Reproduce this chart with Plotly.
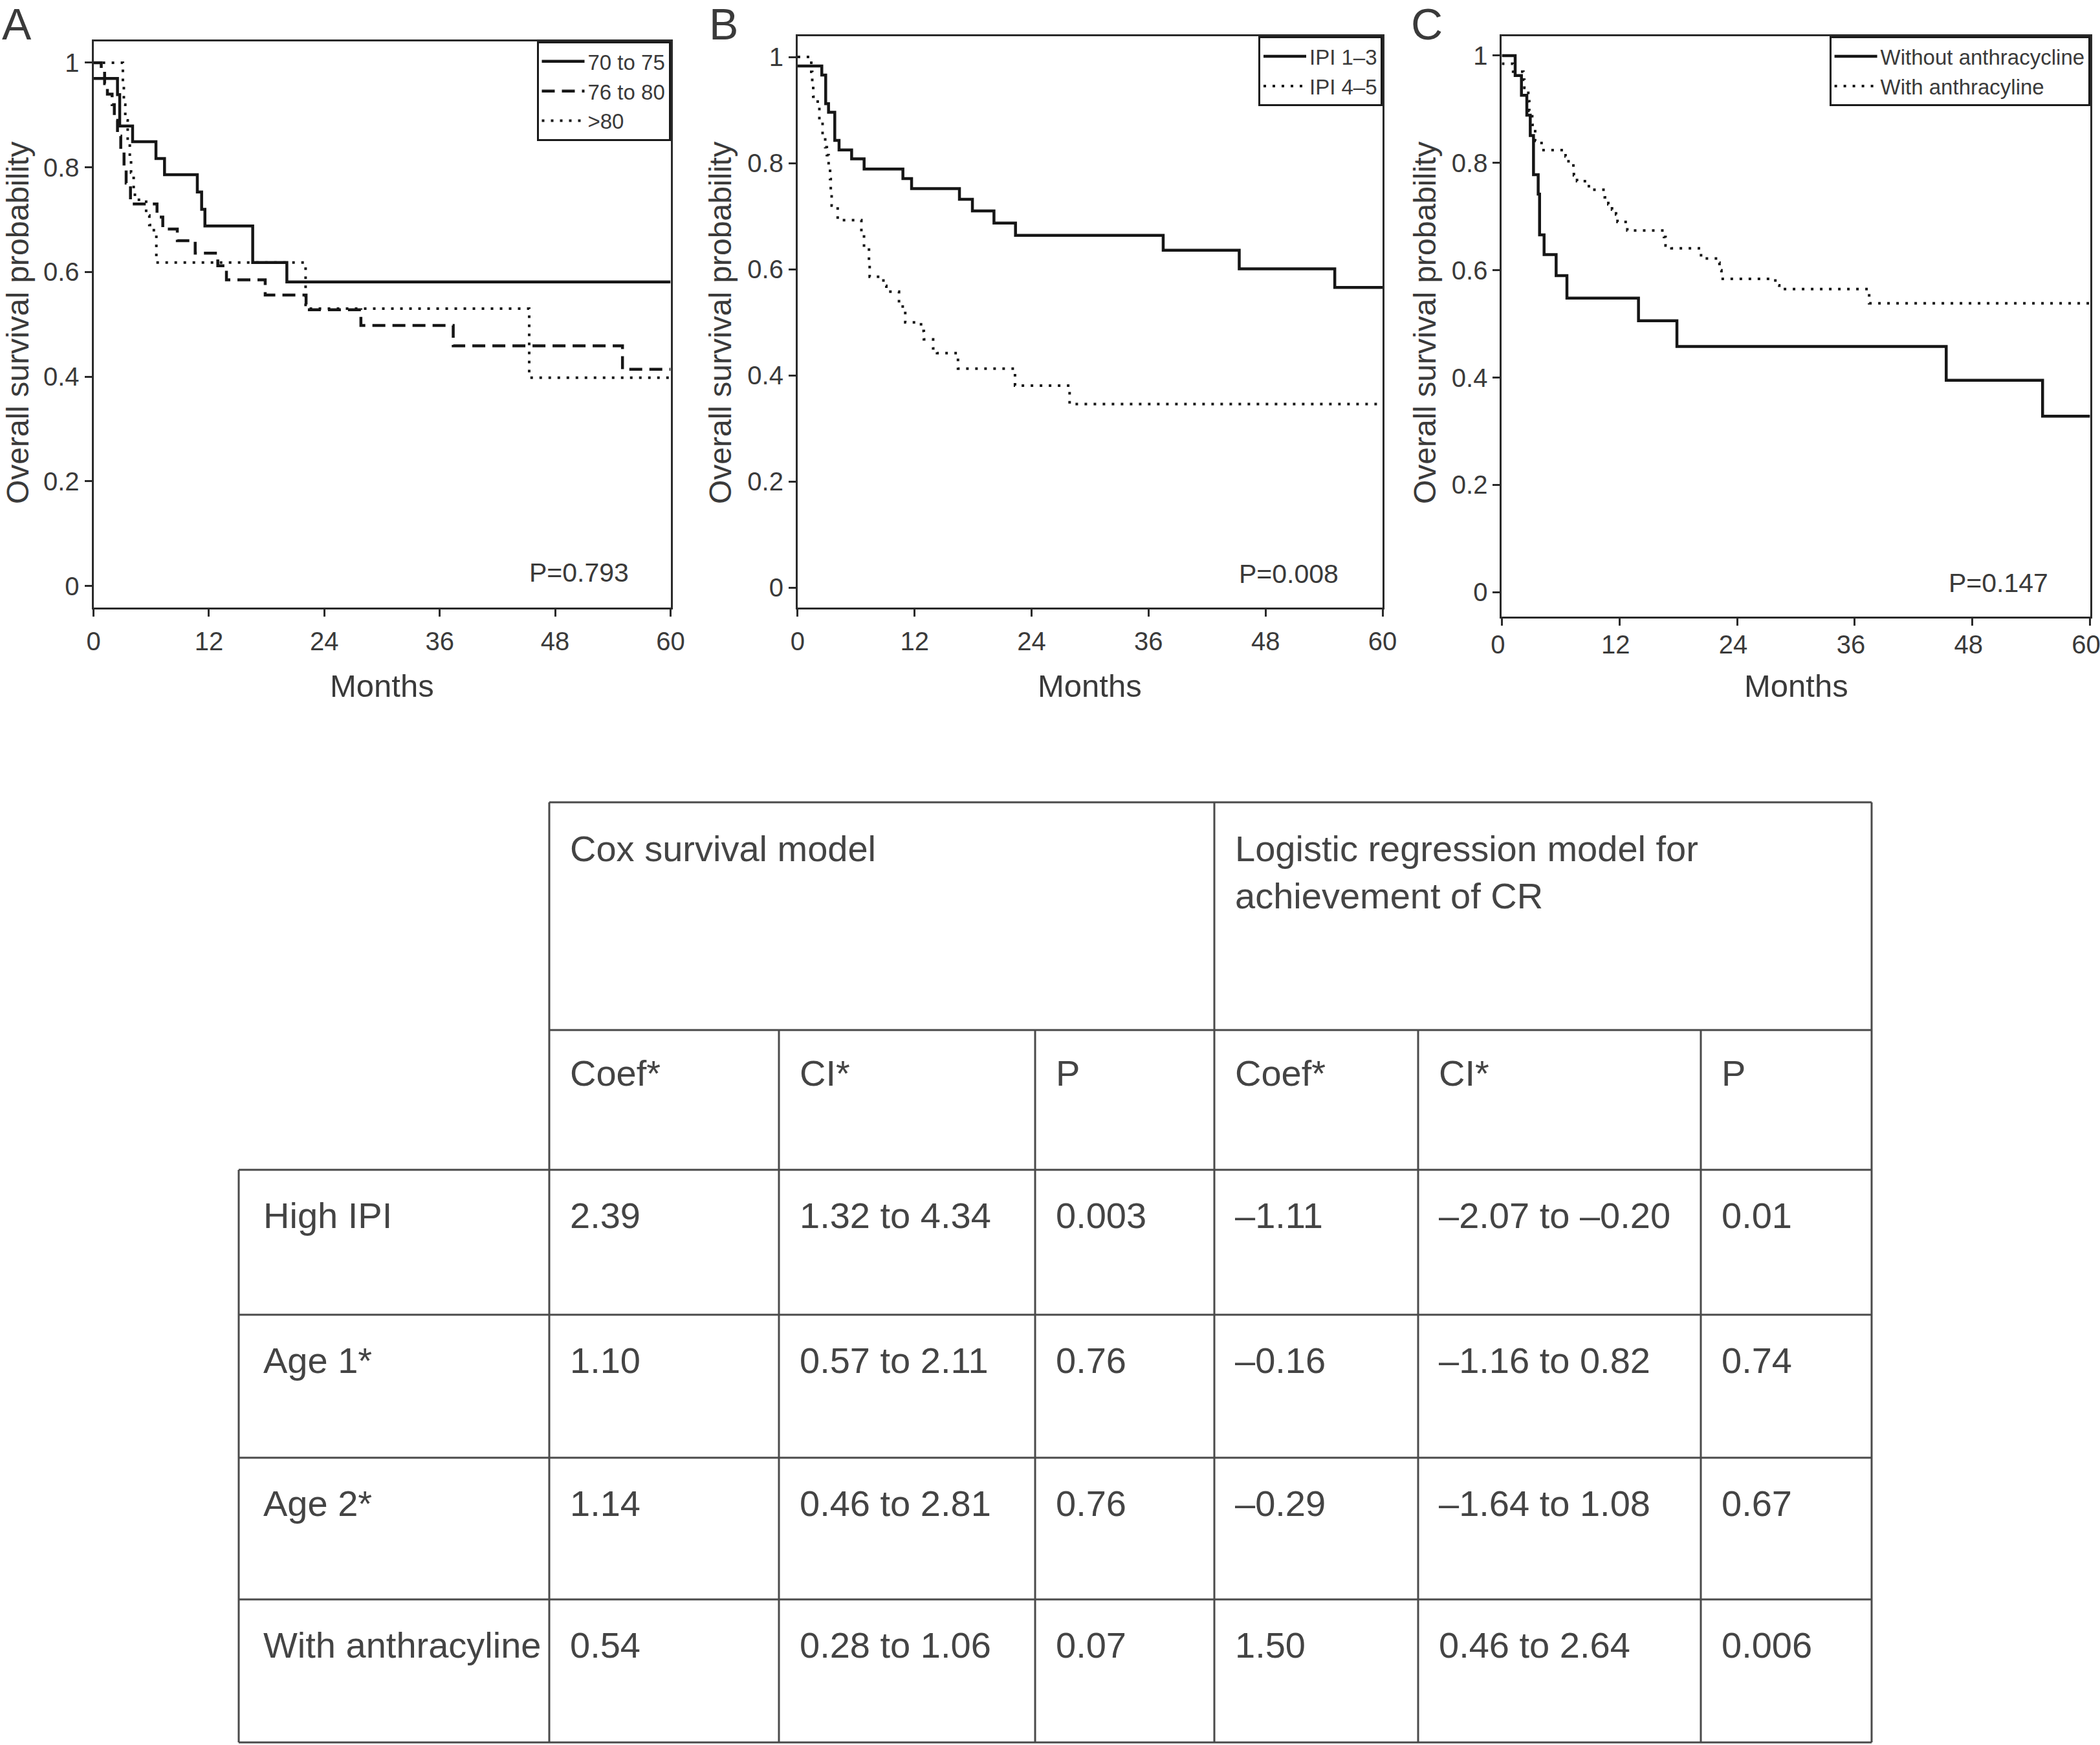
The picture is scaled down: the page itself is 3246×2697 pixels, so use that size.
import plotly.graph_objects as go

# ---- chart data ----
month_ticks = [0, 12, 24, 36, 48, 60]
surv_ticks = [0, 0.2, 0.4, 0.6, 0.8, 1]
surv_tick_text = ["0", "0.2", "0.4", "0.6", "0.8", "1"]

# panel A: age groups
a_time_70_75 = [0, 2.49, 2.72, 4.06, 6.49, 7.38, 10.79, 11.24, 11.58, 16.55, 20.1, 60]
a_surv_70_75 = [0.970, 0.939, 0.879, 0.849, 0.817, 0.786, 0.753, 0.720, 0.688, 0.618, 0.581, 0.581]
a_time_76_80 = [0, 0.8, 1.15, 1.44, 1.93, 2.16, 2.49, 2.83, 3.17, 3.39, 3.84, 6.6, 7.2, 8.71,
                10.57, 12.92, 13.82, 17.85, 22.1, 27.8, 37.4, 55.0, 60]
a_surv_76_80 = [1.0, 0.98, 0.96, 0.94, 0.92, 0.89, 0.86, 0.83, 0.80, 0.77, 0.73, 0.705, 0.682, 0.660,
                0.636, 0.612, 0.585, 0.556, 0.528, 0.498, 0.459, 0.414, 0.414]
a_time_80 = [0, 3.05, 3.15, 3.3, 3.55, 3.77, 3.9, 4.17, 4.3, 5.47, 5.8, 6.08, 6.53, 22.05, 45.3, 60]
a_surv_80 = [1.0, 0.96, 0.92, 0.89, 0.855, 0.82, 0.79, 0.755, 0.738, 0.708, 0.69, 0.68, 0.618, 0.53, 0.398, 0.398]

# panel B: IPI
b_time_ipi13 = [0, 2.48, 2.88, 3.17, 3.81, 4.25, 5.54, 6.82, 10.80, 11.69, 16.60, 17.93, 20.14,
                22.35, 37.5, 45.3, 55.1, 60]
b_surv_ipi13 = [0.983, 0.966, 0.912, 0.896, 0.843, 0.825, 0.808, 0.789, 0.771, 0.752, 0.732, 0.710,
                0.687, 0.664, 0.636, 0.601, 0.566, 0.566]
b_time_ipi45 = [0, 1.4, 1.5, 1.6, 2.06, 2.23, 2.56, 2.83, 3.0, 3.18, 3.33, 3.4, 3.49, 4.11, 6.54,
                6.81, 7.32, 7.39, 8.8, 9.1, 10.4, 11.04, 12.66, 12.95, 13.9, 14.3, 16.45, 22.3, 27.9, 60]
b_surv_ipi45 = [1.0, 0.972, 0.95, 0.925, 0.91, 0.88, 0.85, 0.83, 0.815, 0.80, 0.77, 0.74, 0.72, 0.6925,
                0.665, 0.64, 0.615, 0.586, 0.569, 0.558, 0.53, 0.50, 0.484, 0.468, 0.451, 0.442,
                0.413, 0.381, 0.346, 0.346]

# panel C: anthracycline
c_time_without = [0, 1.36, 2.0, 2.55, 2.90, 3.23, 3.71, 3.85, 4.31, 5.54, 6.64, 13.94, 17.86,
                  45.33, 55.16, 60]
c_surv_without = [1.0, 0.963, 0.926, 0.889, 0.851, 0.778, 0.742, 0.666, 0.629, 0.590, 0.548, 0.506,
                  0.458, 0.395, 0.328, 0.328]
c_time_with = [0, 1.15, 2.2, 2.3, 2.7, 2.8, 3.0, 3.1, 3.4, 4.05, 6.5, 6.8, 7.3, 7.35, 7.67, 8.88,
               10.5, 10.86, 11.24, 11.65, 11.8, 12.8, 16.54, 16.7, 17.3, 20.1, 20.6, 22.08, 22.2,
               22.4, 27.9, 28.3, 37.47, 60]
c_surv_with = [0.985, 0.97, 0.955, 0.94, 0.915, 0.897, 0.887, 0.871, 0.841, 0.824, 0.812, 0.80,
               0.79, 0.777, 0.766, 0.750, 0.736, 0.723, 0.713, 0.704, 0.690, 0.674, 0.662, 0.646,
               0.641, 0.628, 0.622, 0.614, 0.600, 0.584, 0.572, 0.565, 0.5385, 0.5385]

panel_letters = ["A", "B", "C"]
p_values = ["P=0.793", "P=0.008", "P=0.147"]

# table
model_headers = ["Cox survival model", "Logistic regression model for<br>achievement of CR"]
stat_headers = ["Coef*", "CI*", "P", "Coef*", "CI*", "P"]
row_labels = ["High IPI", "Age 1*", "Age 2*", "With anthracyline"]
cox_coef = ["2.39", "1.10", "1.14", "0.54"]
cox_ci = ["1.32 to 4.34", "0.57 to 2.11", "0.46 to 2.81", "0.28 to 1.06"]
cox_p = ["0.003", "0.76", "0.76", "0.07"]
log_coef = ["\u20131.11", "\u20130.16", "\u20130.29", "1.50"]
log_ci = ["\u20132.07 to \u20130.20", "\u20131.16 to 0.82", "\u20131.64 to 1.08", "0.46 to 2.64"]
log_p = ["0.01", "0.74", "0.67", "0.006"]

# ---- layout helpers (pixel -> paper) ----
W, H = 3246, 2697
FONT = "Liberation Sans, Arial, Helvetica, sans-serif"
TXT = "#3a3a3a"
INK = "#161616"


def xp(v):
    return v / W


def yp(v):
    return 1 - v / H


SOLID = dict(color=INK, width=4.5)
DASHED = dict(color=INK, width=4.5, dash="20px,11px")
DOTTED = dict(color=INK, width=4, dash="4px,10px")

fig = go.Figure()

series = [
    (1, "legend", "70 to 75", a_time_70_75, a_surv_70_75, SOLID),
    (1, "legend", "76 to 80", a_time_76_80, a_surv_76_80, DASHED),
    (1, "legend", ">80", a_time_80, a_surv_80, DOTTED),
    (2, "legend2", "IPI 1\u20133", b_time_ipi13, b_surv_ipi13, SOLID),
    (2, "legend2", "IPI 4\u20135", b_time_ipi45, b_surv_ipi45, DOTTED),
    (3, "legend3", "Without anthracycline", c_time_without, c_surv_without, SOLID),
    (3, "legend3", "With anthracyline", c_time_with, c_surv_with, DOTTED),
]
for i, leg, name, t, s, ln in series:
    fig.add_trace(go.Scatter(
        x=t, y=s, mode="lines", line=dict(shape="hv", **ln), name=name,
        xaxis="x" if i == 1 else "x%d" % i, yaxis="y" if i == 1 else "y%d" % i,
        legend=leg,
    ))

# panel frames in pixels: left, right, top, bottom, y range, x-label standoff, x-label shift
panels = [
    (144.6, 1036.5, 63.8, 938.8, [-0.041, 1.041], 4, 0),
    (1232.9, 2137.0, 56.1, 938.8, [-0.037, 1.039], 4, 0),
    (2321.4, 3230.6, 56.1, 953.4, [-0.046, 1.036], -5, -6),
]

axis_common = dict(showline=True, linecolor="#2a2a2a", linewidth=3, mirror=True,
                   ticks="outside", ticklen=11, tickwidth=3, tickcolor="#2a2a2a",
                   showgrid=False, zeroline=False, automargin=False,
                   ticklabeloverflow="allow",
                   tickfont=dict(family=FONT, size=40, color=TXT))

layout = dict(
    width=W, height=H, autosize=False,
    margin=dict(l=0, r=0, t=0, b=0, pad=0, autoexpand=False),
    paper_bgcolor="white", plot_bgcolor="white",
    font=dict(family=FONT, color=TXT),
)
for k, (l, r, t, b, yr, so, sh) in enumerate(panels, start=1):
    sx = "" if k == 1 else str(k)
    layout["xaxis" + sx] = dict(domain=[xp(l), xp(r)], anchor="y" + sx, range=[0, 60],
                                tickvals=month_ticks, ticklabelstandoff=so,
                                ticklabelshift=sh, **axis_common)
    layout["yaxis" + sx] = dict(domain=[yp(b), yp(t)], anchor="x" + sx, range=yr,
                                tickvals=surv_ticks, ticktext=surv_tick_text, **axis_common)

legend_style = dict(bgcolor="white", bordercolor="#1a1a1a", borderwidth=3,
                    xanchor="right", yanchor="top",
                    font=dict(family=FONT, size=33, color=TXT),
                    tracegroupgap=0, itemwidth=66)
layout["legend"] = dict(x=xp(1036.5), y=yp(63.8), **legend_style)
layout["legend2"] = dict(x=xp(2137.0), y=yp(56.1), **legend_style)
layout["legend3"] = dict(x=xp(3230.6), y=yp(56.1), **legend_style)
layout["showlegend"] = True

fig.update_layout(**layout)

ann = []
letter_pos = [(26, 37), (1118, 37), (2205, 37)]
ytitle_x = [28, 1114, 2203]
pval_pos = [(816, 885), (1913, 887), (3010, 901)]
for k, (l, r, t, b, yr, so, sh) in enumerate(panels):
    ann.append(dict(x=xp(letter_pos[k][0]), y=yp(letter_pos[k][1]), text=panel_letters[k],
                    font=dict(size=68, color=TXT), xanchor="center", yanchor="middle"))
    ann.append(dict(x=xp(ytitle_x[k]), y=yp(499), text="Overall survival probability",
                    textangle=-90, font=dict(size=48, color=TXT),
                    xanchor="center", yanchor="middle"))
    ann.append(dict(x=xp((l + r) / 2), y=yp(1060), text="Months",
                    font=dict(size=49, color=TXT), xanchor="center", yanchor="middle"))
    ann.append(dict(x=xp(pval_pos[k][0]), y=yp(pval_pos[k][1]), text=p_values[k],
                    font=dict(size=41, color=TXT), xanchor="left", yanchor="middle"))

# ---- table ----
col_edges = [369, 849, 1204, 1600, 1877, 2192, 2629, 2893]
row_edges = [1240, 1592, 1808, 2032, 2253, 2472, 2693]
LINE = dict(color="#4a4a4a", width=3)
shapes = []


def hline(y, x0, x1):
    shapes.append(dict(type="line", xref="paper", yref="paper",
                       x0=xp(x0), x1=xp(x1), y0=yp(y), y1=yp(y), line=LINE))


def vline(x, y0, y1):
    shapes.append(dict(type="line", xref="paper", yref="paper",
                       x0=xp(x), x1=xp(x), y0=yp(y0), y1=yp(y1), line=LINE))


hline(row_edges[0], col_edges[1], col_edges[-1])
hline(row_edges[1], col_edges[1], col_edges[-1])
for y in row_edges[2:]:
    hline(y, col_edges[0], col_edges[-1])
for x in [col_edges[1], col_edges[4], col_edges[7]]:
    vline(x, row_edges[0], row_edges[-1])
vline(col_edges[0], row_edges[2], row_edges[-1])
for x in [col_edges[2], col_edges[3], col_edges[5], col_edges[6]]:
    vline(x, row_edges[1], row_edges[-1])

TFONT = dict(size=56, color="#444444")
PAD = 30


def cell(text, x_left, y_mid, pad=PAD):
    ann.append(dict(x=xp(x_left + pad), y=yp(y_mid), text=text, font=TFONT,
                    xanchor="left", yanchor="middle", align="left"))


cell(model_headers[0], col_edges[1], row_edges[0] + 71)
cell(model_headers[1], col_edges[4], row_edges[0] + 108)
for j, h in enumerate(stat_headers):
    cell(h, col_edges[1 + j], row_edges[1] + 66)
for i, lab in enumerate(row_labels):
    ymid = row_edges[2 + i] + 70
    cell(lab, col_edges[0], ymid, pad=36)
    row_vals = [cox_coef[i], cox_ci[i], cox_p[i], log_coef[i], log_ci[i], log_p[i]]
    for j, v in enumerate(row_vals):
        cell(v, col_edges[1 + j], ymid)

for a in ann:
    a.update(xref="paper", yref="paper", showarrow=False)
    a["font"] = dict(family=FONT, **a["font"])

fig.update_layout(annotations=ann, shapes=shapes)
fig.write_html("out.html", config={"displayModeBar": False},
               post_script="document.body.style.margin='0';document.body.style.overflow='hidden';")
